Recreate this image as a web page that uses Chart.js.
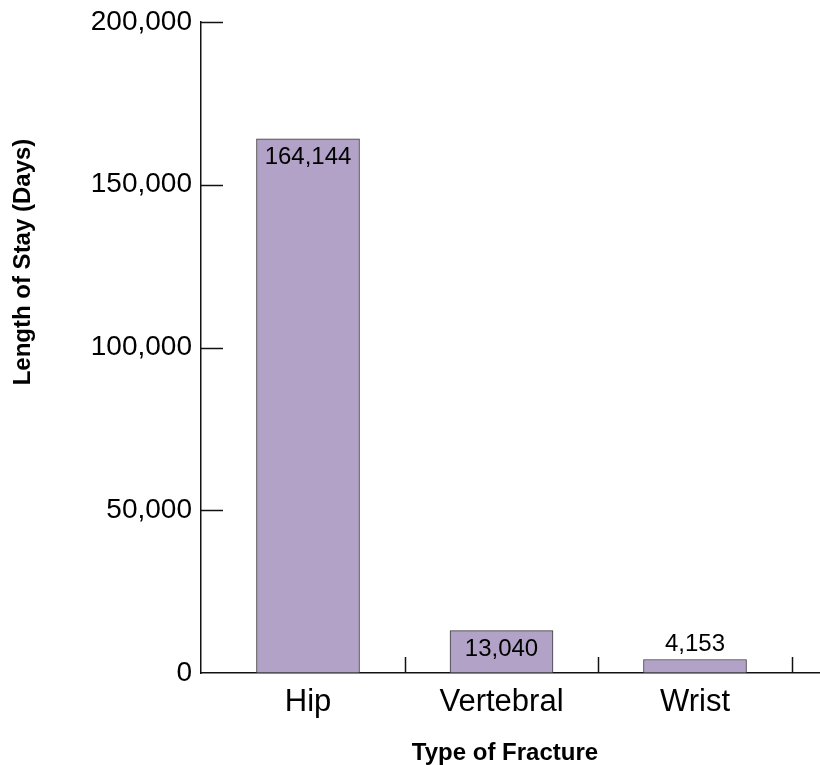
<!DOCTYPE html>
<html>
<head>
<meta charset="utf-8">
<title>Length of Stay by Type of Fracture</title>
<script src="https://cdn.jsdelivr.net/npm/chart.js@4.4.1/dist/chart.umd.min.js"></script>
<style>
  html, body { margin: 0; padding: 0; background: #ffffff; }
  #wrap { width: 820px; height: 765px; }
</style>
</head>
<body>
<div id="wrap"><canvas id="chart" width="820" height="765"></canvas></div>
<script>
// Hospital length of stay (days) by fracture type
const categories = ['Hip', 'Vertebral', 'Wrist'];
const stayDays = [164144, 13040, 4153];
const yTickValues = [0, 50000, 100000, 150000, 200000];
const xAxisTitle = 'Type of Fracture';
const yAxisTitle = 'Length of Stay (Days)';

const FONT = '"Liberation Sans", Arial, Helvetica, sans-serif';
const AXIS_COLOR = '#111111';

const fmt = v => v.toLocaleString('en-US');

// Inward tick marks, category separators, axis titles and value labels
const decorations = {
  id: 'decorations',
  afterDatasetsDraw(chart) {
    const { ctx, chartArea, scales } = chart;
    const x = scales.x, y = scales.y;
    ctx.save();
    ctx.strokeStyle = AXIS_COLOR;
    ctx.lineWidth = 1.5;
    // y ticks pointing into the plot
    yTickValues.forEach(v => {
      if (v === 0) return;
      const py = Math.round(y.getPixelForValue(v)) + 0.5;
      ctx.beginPath();
      ctx.moveTo(chartArea.left, py);
      ctx.lineTo(chartArea.left + 22, py);
      ctx.stroke();
    });
    // separators between categories, rising from the x axis
    for (let i = 0; i < categories.length; i++) {
      const px = Math.round(x.getPixelForValue(i + 0.5)) + 0.5;
      ctx.beginPath();
      ctx.moveTo(px, chartArea.bottom);
      ctx.lineTo(px, chartArea.bottom - 16);
      ctx.stroke();
    }
    // value labels: inside the top of the bar when it fits, otherwise above it
    ctx.fillStyle = '#000000';
    ctx.font = '24px ' + FONT;
    ctx.textAlign = 'center';
    ctx.textBaseline = 'alphabetic';
    const meta = chart.getDatasetMeta(0);
    meta.data.forEach((bar, i) => {
      const h = bar.base - bar.y;
      const ly = h > 34 ? bar.y + 25 : bar.y - 8;
      ctx.fillText(fmt(stayDays[i]), bar.x, ly);
    });
    // axis titles
    ctx.font = 'bold 24px ' + FONT;
    ctx.fillText(xAxisTitle, 505, 760);
    ctx.translate(30, 262);
    ctx.rotate(-Math.PI / 2);
    ctx.fillText(yAxisTitle, 0, 0);
    ctx.restore();
  }
};

new Chart(document.getElementById('chart'), {
  type: 'bar',
  data: {
    datasets: [{
      data: categories.map((c, i) => ({ x: i, y: stayDays[i] })),
      backgroundColor: '#b2a2c7',
      borderColor: '#3a3a3a',
      borderWidth: 1,
      borderSkipped: false,
      barThickness: 103
    }]
  },
  options: {
    responsive: false,
    animation: false,
    layout: { padding: { top: 22, left: 0, right: 0, bottom: 0 } },
    plugins: {
      legend: { display: false },
      tooltip: { enabled: false }
    },
    scales: {
      x: {
        type: 'linear',
        offset: false,
        min: -0.553,
        max: 2.646,
        afterBuildTicks: s => { s.ticks = categories.map((c, i) => ({ value: i })); },
        afterFit: s => { s.height = 92; s.paddingLeft = 0; s.paddingRight = 0; },
        grid: { display: false, drawTicks: false, offset: false },
        border: { display: true, color: AXIS_COLOR, width: 1.5 },
        ticks: {
          callback: v => categories[v] ?? '',
          color: '#000000',
          font: { family: FONT, size: 31 },
          padding: 11,
          maxRotation: 0,
          autoSkip: false
        }
      },
      y: {
        min: 0,
        max: 200000,
        afterBuildTicks: s => { s.ticks = yTickValues.map(v => ({ value: v })); },
        afterFit: s => { s.width = 201; s.paddingTop = 0; s.paddingBottom = 0; },
        grid: { display: false, drawTicks: false },
        border: { display: true, color: AXIS_COLOR, width: 1.5 },
        ticks: {
          callback: v => fmt(v),
          color: '#000000',
          font: { family: FONT, size: 28 },
          padding: 9
        }
      }
    }
  },
  plugins: [decorations]
});
</script>
</body>
</html>
